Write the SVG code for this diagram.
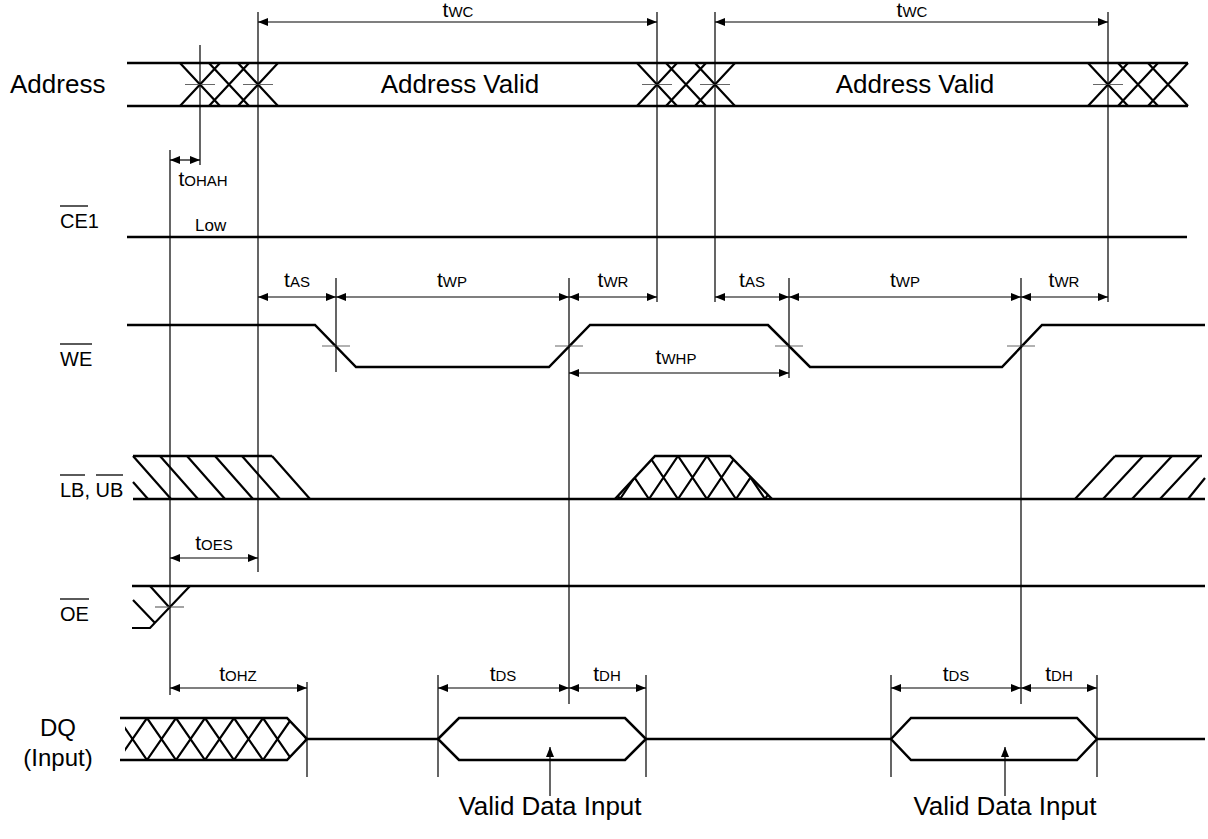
<svg xmlns="http://www.w3.org/2000/svg" width="1208" height="839" viewBox="0 0 1208 839">
<style>
text{font-family:"Liberation Sans",Arial,sans-serif;fill:#000}
.lbl{font-size:26px}
.sl{font-size:20px}
.t{font-size:21px;text-anchor:middle}
.s{font-size:15px}
.sig{stroke:#000;stroke-width:2.5;fill:none;stroke-linejoin:miter}
.h{stroke:#000;stroke-width:2.2;fill:none}
.v{stroke:#000;stroke-width:1.2;fill:none}
.tk{stroke:#666;stroke-width:1.2}
.dim{stroke:#000;stroke-width:1.2;marker-start:url(#as);marker-end:url(#ae)}
.ol{stroke:#000;stroke-width:1.3}
</style>
<defs>
<marker id="ae" viewBox="0 0 10 8" refX="10" refY="4" markerWidth="10" markerHeight="8" markerUnits="userSpaceOnUse" orient="auto"><path d="M0,0L10,4L0,8Z" fill="#000"/></marker>
<marker id="as" viewBox="0 0 10 8" refX="0" refY="4" markerWidth="10" markerHeight="8" markerUnits="userSpaceOnUse" orient="auto"><path d="M10,0L0,4L10,8Z" fill="#000"/></marker>
<clipPath id="cLB"><polygon points="615,499 655,456 730,456 772,499"/></clipPath>
<clipPath id="cDQ"><polygon points="125,718 287,718 307,739 287,760 125,760"/></clipPath>
</defs>

<g id="labels">
<text class="lbl" x="10" y="93">Address</text>
<text class="sl" x="60" y="228">CE1</text>
<line class="ol" x1="60" y1="206" x2="88" y2="206"/>
<text class="sl" x="60" y="366">WE</text>
<line class="ol" x1="60" y1="344" x2="92" y2="344"/>
<text class="sl" x="60" y="497">LB, UB</text>
<line class="ol" x1="60" y1="475" x2="85" y2="475"/>
<line class="ol" x1="96" y1="475" x2="123" y2="475"/>
<text class="sl" x="60" y="621">OE</text>
<line class="ol" x1="60" y1="599" x2="89" y2="599"/>
<text class="lbl" x="58" y="736" text-anchor="middle" style="font-size:24px">DQ</text>
<text class="lbl" x="58" y="766" text-anchor="middle" style="font-size:24px">(Input)</text>
</g>

<g id="address">
<line class="sig" x1="127" y1="63" x2="1188" y2="63"/>
<line class="sig" x1="127" y1="106" x2="1188" y2="106"/>
<path class="h" d="M180,63L220,106M180,106L220,63M209,63L249,106M209,106L249,63M238,63L278,106M238,106L278,63"/>
<path class="h" d="M637,63L677,106M637,106L677,63M666,63L706,106M666,106L706,63M695,63L735,106M695,106L735,63"/>
<path class="h" d="M1088,63L1128,106M1088,106L1128,63M1118,63L1158,106M1118,106L1158,63M1148,63L1188,106M1148,106L1188,63"/>
<path class="tk" d="M185,84.5H215M243,84.5H273M642,84.5H672M700,84.5H730M1093,84.5H1123"/>
<text class="lbl" x="460" y="93" text-anchor="middle">Address Valid</text>
<text class="lbl" x="915" y="93" text-anchor="middle">Address Valid</text>
</g>

<g id="ce1">
<line class="sig" x1="127" y1="237" x2="1187" y2="237"/>
<text x="195" y="231" style="font-size:17px">Low</text>
</g>

<g id="we">
<path class="sig" d="M127,325H315L356,367H549L590,325H768L810,367H1002L1042,325H1205"/>
<path class="tk" d="M322,346H350M555,346H583M775,346H803M1007,346H1035"/>
</g>

<g id="lbub">
<line class="sig" x1="133" y1="499" x2="1205" y2="499"/>
<line class="sig" x1="133" y1="456" x2="272" y2="456"/>
<path class="h" d="M133,456L171,499M160,456L198,499M187,456L225,499M215,456L253,499M242,456L280,499M272,456L310,499M133,482L148,499"/>
<path class="sig" d="M615,499L655,456H730L772,499"/>
<g clip-path="url(#cLB)">
<path class="h" d="M591,456L620,499M620,456L649,499M649,456L678,499M678,456L707,499M707,456L736,499M736,456L765,499M765,456L794,499M620,456L591,499M649,456L620,499M678,456L649,499M707,456L678,499M736,456L707,499M765,456L736,499M794,456L765,499"/>
</g>
<line class="sig" x1="1115" y1="456" x2="1202" y2="456"/>
<path class="h" d="M1075,499L1115,456M1103,499L1143,456M1132,499L1172,456M1160,499L1200,456M1188,499L1205,478"/>
</g>

<g id="oe">
<line class="sig" x1="132" y1="586" x2="1205" y2="586"/>
<path class="h" d="M150,586L169,607M190,586L150,628H132M133,600L155,623"/>
<path class="tk" d="M155,607H184"/>
</g>

<g id="dq">
<path class="sig" d="M120,718H287L307,739L287,760H120"/>
<g clip-path="url(#cDQ)">
<path class="h" d="M89,718L118,760M118,718L147,760M147,718L176,760M176,718L205,760M205,718L234,760M234,718L263,760M263,718L292,760M292,718L321,760M118,718L89,760M147,718L118,760M176,718L147,760M205,718L176,760M234,718L205,760M263,718L234,760M292,718L263,760M321,718L292,760"/>
</g>
<line class="sig" x1="307" y1="739" x2="438" y2="739"/>
<path class="sig" d="M438,739L459,718H625L646,739L625,760H459Z"/>
<line class="sig" x1="646" y1="739" x2="891" y2="739"/>
<path class="sig" d="M891,739L911,718H1077L1097,739L1077,760H911Z"/>
<line class="sig" x1="1097" y1="739" x2="1205" y2="739"/>
<line class="v" x1="550" y1="796" x2="550" y2="747" marker-end="url(#ae)"/>
<line class="v" x1="1005" y1="796" x2="1005" y2="747" marker-end="url(#ae)"/>
<text class="lbl" x="550" y="815" text-anchor="middle">Valid Data Input</text>
<text class="lbl" x="1005" y="815" text-anchor="middle">Valid Data Input</text>
</g>

<g id="connectors">
<path class="v" d="M200,45V165M258,12V572M657,12V302M715,12V302M1108,12V302M170,150V695M336,278V372M569,278V704M789,278V378M1021,278V704M307,682V777M438,675V777M646,675V777M891,675V777M1097,675V777"/>
<line class="dim" x1="258" y1="22" x2="657" y2="22"/>
<line class="dim" x1="715" y1="22" x2="1108" y2="22"/>
<line class="dim" x1="170" y1="160" x2="200" y2="160"/>
<line class="dim" x1="258" y1="297" x2="336" y2="297"/>
<line class="dim" x1="336" y1="297" x2="569" y2="297"/>
<line class="dim" x1="569" y1="297" x2="657" y2="297"/>
<line class="dim" x1="715" y1="297" x2="789" y2="297"/>
<line class="dim" x1="789" y1="297" x2="1021" y2="297"/>
<line class="dim" x1="1021" y1="297" x2="1108" y2="297"/>
<line class="dim" x1="569" y1="373" x2="789" y2="373"/>
<line class="dim" x1="170" y1="558" x2="258" y2="558"/>
<line class="dim" x1="170" y1="688" x2="307" y2="688"/>
<line class="dim" x1="438" y1="688" x2="569" y2="688"/>
<line class="dim" x1="569" y1="688" x2="646" y2="688"/>
<line class="dim" x1="891" y1="688" x2="1021" y2="688"/>
<line class="dim" x1="1021" y1="688" x2="1097" y2="688"/>
</g>

<g id="timing-labels">
<text class="t" x="458" y="17">t<tspan class="s">WC</tspan></text>
<text class="t" x="912" y="17">t<tspan class="s">WC</tspan></text>
<text class="t" x="203" y="186">t<tspan class="s">OHAH</tspan></text>
<text class="t" x="297" y="287">t<tspan class="s">AS</tspan></text>
<text class="t" x="452" y="287">t<tspan class="s">WP</tspan></text>
<text class="t" x="613" y="287">t<tspan class="s">WR</tspan></text>
<text class="t" x="752" y="287">t<tspan class="s">AS</tspan></text>
<text class="t" x="905" y="287">t<tspan class="s">WP</tspan></text>
<text class="t" x="1064" y="287">t<tspan class="s">WR</tspan></text>
<text class="t" x="676" y="364">t<tspan class="s">WHP</tspan></text>
<text class="t" x="214" y="550">t<tspan class="s">OES</tspan></text>
<text class="t" x="238" y="681">t<tspan class="s">OHZ</tspan></text>
<text class="t" x="503" y="681">t<tspan class="s">DS</tspan></text>
<text class="t" x="607" y="681">t<tspan class="s">DH</tspan></text>
<text class="t" x="956" y="681">t<tspan class="s">DS</tspan></text>
<text class="t" x="1059" y="681">t<tspan class="s">DH</tspan></text>
</g>
</svg>
